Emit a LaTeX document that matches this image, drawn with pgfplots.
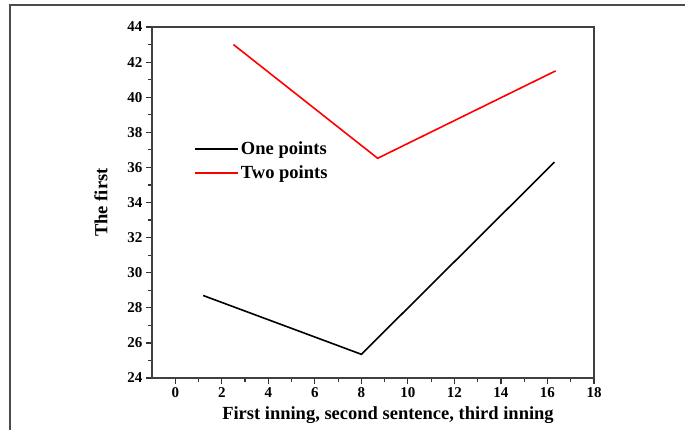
\documentclass[border=0pt]{standalone}
\usepackage{fontspec}
\setmainfont{Liberation Serif}
\usepackage{pgfplots}
\pgfplotsset{compat=1.18}
\begin{document}
\begin{tikzpicture}
\useasboundingbox (0pt,0pt) rectangle (685pt,429pt);
\draw[line width=2pt,color=black!70] (10pt,-10pt) -- (10pt,424pt) -- (700pt,424pt);
\begin{axis}[
  at={(152pt,51pt)}, anchor=south west,
  scale only axis, width=442pt, height=351pt,
  xmin=-1, xmax=18, ymin=24, ymax=44,
  xtick={0,2,...,18}, ytick={24,26,...,44},
  minor x tick num=1, minor y tick num=1,
  xtick pos=bottom, ytick pos=left,
  tick align=outside,
  major tick length=6pt, minor tick length=4pt,
  axis line style={line width=1.3pt, color=black!75},
  every tick/.style={line width=1.2pt, color=black!80},
  tick label style={font=\fontsize{15}{17}\selectfont\bfseries},
  /pgf/number format/assume math mode=true,
  xlabel={First inning, second sentence, third inning},
  ylabel={The first},
  label style={font=\fontsize{18.5}{20}\selectfont\bfseries},
  xlabel style={yshift=-2pt, xshift=15pt},
  ylabel style={yshift=13pt},
  legend style={draw=none, fill=none, at={(rel axis cs:0.095,0.68)}, anchor=north west,
    font=\fontsize{18.5}{20}\selectfont\bfseries, row sep=6pt, inner sep=0pt},
  legend cell align=left,
  legend image code/.code={\draw[#1, line width=1.8pt] (0pt,0pt) -- (43pt,0pt);},
]
\addplot[black, line width=1.6pt] coordinates {(1.2,28.7) (8.0,25.35) (16.3,36.3)};
\addlegendentry{One points}
\addplot[red, line width=1.6pt] coordinates {(2.5,43.0) (8.7,36.52) (16.35,41.5)};
\addlegendentry{Two points}
\end{axis}
\end{tikzpicture}
\end{document}
